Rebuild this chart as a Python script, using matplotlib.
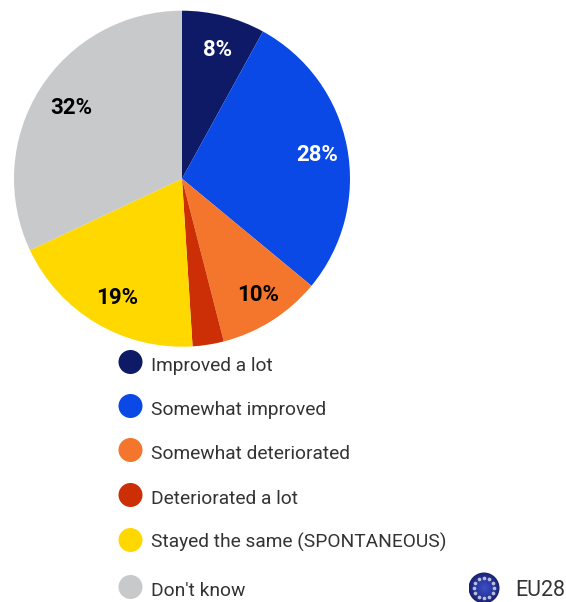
import numpy as np
import matplotlib
matplotlib.use('Agg')
import matplotlib.pyplot as plt
from matplotlib.colors import LinearSegmentedColormap
from matplotlib.patches import Circle

plt.rcParams['font.family'] = ['Roboto', 'Liberation Sans', 'DejaVu Sans']

categories = ['Improved a lot', 'Somewhat improved', 'Somewhat deteriorated',
              'Deteriorated a lot', 'Stayed the same (SPONTANEOUS)', "Don't know"]
values = [8, 28, 10, 3, 19, 32]
colors = ['#0e1a66', '#0a49e6', '#f4752c', '#cc2f05', '#ffd800', '#c8c9cb']
labels = ['8%', '28%', '10%', '', '19%', '32%']
label_colors = ['white', 'white', 'black', 'black', 'black', 'black']
label_pos = [(218, 50), (317, 155), (258, 295), None, (117, 298), (71, 108)]
dot_y = [362, 406, 450, 495, 540, 587]
text_y = [366, 410, 454, 499, 542, 591]

W, H = 566, 602
fig = plt.figure(figsize=(W / 100, H / 100), dpi=100)
ax = fig.add_axes([0, 0, 1, 1])

# pie drawn clockwise from twelve o'clock
wedges, _ = ax.pie(values, colors=colors, startangle=90, counterclock=False,
                   center=(182, 178.7), radius=168, frame=True)
ax.set_xlim(0, W)
ax.set_ylim(H, 0)
ax.set_aspect('auto')
ax.axis('off')
# y axis runs downwards, so flip the wedge angles to keep the order clockwise
for w in wedges:
    t1, t2 = w.theta1, w.theta2
    w.set_theta1(-t2)
    w.set_theta2(-t1)

for text, col, pos in zip(labels, label_colors, label_pos):
    if pos:
        ax.text(pos[0], pos[1], text, color=col, fontsize=16, fontweight='bold',
                ha='center', va='center')

# legend
for name, col, dy, ty in zip(categories, colors, dot_y, text_y):
    ax.add_patch(Circle((130.5, dy), 12, color=col, lw=0))
    ax.text(151, ty, name, fontsize=13.8, color='#333333', va='center', ha='left')

# EU28 badge: dark blue globe with a lighter middle and a ring of stars
gx, gy, gr = 484, 588, 15.5
yy, xx = np.mgrid[-1:1:64j, -1:1:64j]
globe_cmap = LinearSegmentedColormap.from_list('globe', ['#3d4fc4', '#2c3aa8', '#1a2270'])
globe = ax.imshow(np.hypot(xx, yy), cmap=globe_cmap, vmin=0, vmax=1,
                  extent=(gx - gr, gx + gr, gy + gr, gy - gr), aspect='auto', zorder=2)
globe.set_clip_path(Circle((gx, gy), gr, transform=ax.transData))
ax.set_xlim(0, W)
ax.set_ylim(H, 0)
stars = np.linspace(0, 2 * np.pi, 12, endpoint=False)
ax.scatter(gx + 10 * np.cos(stars), gy + 10 * np.sin(stars), s=7, color='#b9bde0',
           marker='o', lw=0, zorder=3)
ax.text(515, 591, 'EU28', fontsize=15.5, color='#333333', va='center', ha='left')

fig.savefig('out.png', dpi=100)
